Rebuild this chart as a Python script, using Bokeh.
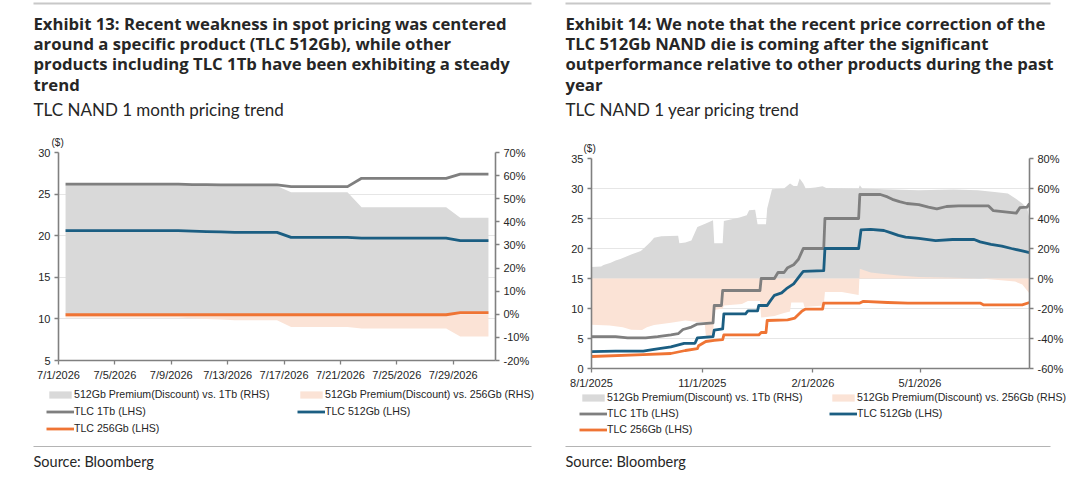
import pandas as pd
from bokeh.plotting import figure
from bokeh.models import (Range1d, LinearAxis, FixedTicker, PrintfTickFormatter,
                          Legend, LegendItem)
from bokeh.layouts import row, column
from bokeh.embed import file_html
from bokeh.resources import INLINE
from bokeh.core.properties import value

# ---- Exhibit 13: one month, daily ----
m_dates = pd.date_range("2026-07-01", "2026-07-31")
m_tb1 = [26.2, 26.2, 26.2, 26.2, 26.2, 26.2, 26.2, 26.2, 26.2, 26.15, 26.15, 26.1, 26.1, 26.1, 26.1, 26.1,
         25.9, 25.9, 25.9, 25.9, 25.9, 26.9, 26.9, 26.9, 26.9, 26.9, 26.9, 26.9, 27.4, 27.4, 27.4]
m_gb512 = [20.6, 20.6, 20.6, 20.6, 20.6, 20.6, 20.6, 20.6, 20.6, 20.55, 20.5, 20.45, 20.4, 20.4, 20.4, 20.4,
           19.8, 19.8, 19.8, 19.8, 19.8, 19.7, 19.7, 19.7, 19.7, 19.7, 19.7, 19.7, 19.4, 19.4, 19.4]
m_gb256 = [10.5, 10.5, 10.5, 10.5, 10.5, 10.5, 10.5, 10.5, 10.5, 10.5, 10.5, 10.5, 10.5, 10.5, 10.5, 10.5,
           10.5, 10.5, 10.5, 10.5, 10.5, 10.5, 10.5, 10.5, 10.5, 10.5, 10.5, 10.5, 10.75, 10.75, 10.75]
m_prem_1tb = [56.0, 56.0, 56.0, 56.0, 56.0, 56.0, 56.0, 56.0, 56.0, 55.9, 55.8, 55.6, 55.5, 55.5, 55.5, 55.5,
              52.8, 52.8, 52.8, 52.8, 52.8, 46.3, 46.3, 46.3, 46.3, 46.3, 46.3, 46.3, 41.8, 41.8, 41.8]
m_prem_256 = [-1.4, -1.4, -1.4, -1.4, -1.4, -1.4, -1.4, -1.4, -1.4, -1.7, -2.0, -2.3, -2.6, -2.6, -2.6, -2.6,
              -5.5, -5.5, -5.5, -5.5, -5.5, -6.1, -6.1, -6.1, -6.1, -6.1, -6.1, -6.1, -9.6, -9.6, -9.6]
m_ticks = ["2026-07-01", "2026-07-05", "2026-07-09", "2026-07-13", "2026-07-17", "2026-07-21", "2026-07-25", "2026-07-29"]
m_tick_labels = ["7/1/2026", "7/5/2026", "7/9/2026", "7/13/2026", "7/17/2026", "7/21/2026", "7/25/2026", "7/29/2026"]

# ---- Exhibit 14: one year, read at the break points ----
y_tb1_d = ["2025-08-01", "2025-08-21", "2025-08-31", "2025-09-15", "2025-09-25", "2025-10-06", "2025-10-12",
           "2025-10-16", "2025-10-23", "2025-10-28", "2025-11-10", "2025-11-11", "2025-11-17", "2025-11-18",
           "2025-12-19", "2025-12-20", "2025-12-31", "2026-01-03", "2026-01-08", "2026-01-11", "2026-01-16",
           "2026-01-20", "2026-01-24", "2026-02-10", "2026-02-11", "2026-03-11", "2026-03-12", "2026-03-29",
           "2026-04-04", "2026-04-08", "2026-04-14", "2026-04-20", "2026-04-30", "2026-05-08", "2026-05-15",
           "2026-05-23", "2026-06-02", "2026-06-27", "2026-07-01", "2026-07-20", "2026-07-23", "2026-07-29",
           "2026-07-31"]
y_tb1 = [5.3, 5.3, 5.1, 5.1, 5.3, 5.6, 5.8, 6.5, 6.9, 7.4, 7.6, 10.5, 10.5, 13.0, 13.0, 15.0, 15.0, 16.0,
         16.0, 16.8, 17.3, 18.2, 20.0, 20.0, 25.0, 25.0, 29.0, 29.0, 28.6, 28.2, 27.8, 27.5, 27.3, 26.9, 26.6,
         27.0, 27.1, 27.1, 26.3, 25.9, 26.8, 26.9, 27.5]

y_gb512_d = ["2025-08-01", "2025-08-21", "2025-09-13", "2025-09-22", "2025-10-06", "2025-10-17", "2025-10-26",
             "2025-10-28", "2025-11-10", "2025-11-11", "2025-11-18", "2025-11-19", "2025-12-07", "2025-12-09",
             "2025-12-17", "2025-12-18", "2025-12-25", "2025-12-27", "2025-12-31", "2026-01-06", "2026-01-10",
             "2026-01-16", "2026-01-22", "2026-01-24", "2026-02-10", "2026-02-11", "2026-03-11", "2026-03-13",
             "2026-03-21", "2026-04-01", "2026-04-07", "2026-04-13", "2026-04-19", "2026-04-30", "2026-05-14",
             "2026-05-28", "2026-06-15", "2026-06-20", "2026-06-29", "2026-07-08", "2026-07-16", "2026-07-25",
             "2026-07-31"]
y_gb512 = [2.8, 2.9, 2.9, 3.2, 3.6, 4.2, 4.2, 5.1, 5.3, 6.4, 6.6, 9.1, 9.1, 9.6, 9.6, 10.5, 10.5, 11.1, 12.2,
           12.6, 13.3, 14.1, 15.7, 16.2, 16.3, 20.0, 20.0, 23.1, 23.2, 23.0, 22.6, 22.2, 21.9, 21.7, 21.3, 21.5,
           21.5, 21.1, 20.7, 20.4, 20.0, 19.6, 19.3]

y_gb256_d = ["2025-08-01", "2025-09-13", "2025-10-06", "2025-10-18", "2025-10-28", "2025-10-29", "2025-11-04",
             "2025-11-11", "2025-11-18", "2025-11-19", "2025-12-18", "2025-12-20", "2025-12-24", "2025-12-25",
             "2026-01-11", "2026-01-17", "2026-01-23", "2026-01-26", "2026-02-09", "2026-02-10", "2026-03-12",
             "2026-03-15", "2026-04-04", "2026-04-21", "2026-06-20", "2026-06-23", "2026-07-25", "2026-07-31"]
y_gb256 = [2.0, 2.3, 2.5, 3.0, 3.3, 3.8, 4.5, 4.7, 4.8, 5.6, 5.6, 6.0, 6.0, 8.0, 8.1, 8.4, 9.6, 9.9, 9.9, 10.9,
           10.9, 11.2, 11.0, 10.9, 10.9, 10.6, 10.6, 11.0]

y_prem_1tb_d = ["2025-08-01", "2025-08-09", "2025-08-11", "2025-08-17", "2025-08-21", "2025-08-25", "2025-09-03",
                "2025-09-11", "2025-09-14", "2025-09-19", "2025-09-22", "2025-09-28", "2025-10-12", "2025-10-13",
                "2025-10-18", "2025-10-23", "2025-10-28", "2025-11-04", "2025-11-10", "2025-11-11", "2025-11-18",
                "2025-11-19", "2025-12-02", "2025-12-08", "2025-12-10", "2025-12-15", "2025-12-17", "2025-12-24",
                "2025-12-25", "2025-12-29", "2026-01-08", "2026-01-13", "2026-01-16", "2026-01-19", "2026-01-21",
                "2026-01-24", "2026-01-26", "2026-02-03", "2026-02-09", "2026-02-12", "2026-03-11", "2026-03-12",
                "2026-03-14", "2026-04-01", "2026-04-30", "2026-05-29", "2026-06-18", "2026-07-02", "2026-07-13",
                "2026-07-20", "2026-07-25", "2026-07-29", "2026-07-31"]
y_prem_1tb = [7.6, 8.0, 9.0, 10.5, 12.0, 13.0, 16.0, 18.3, 20.5, 24.3, 27.2, 28.1, 28.5, 23.5, 24.0, 25.4, 34.3,
              36.6, 38.8, 23.5, 23.5, 38.3, 40.6, 42.1, 45.5, 45.9, 36.1, 36.1, 46.6, 59.5, 60.0, 63.4, 61.6, 61.6,
              66.7, 63.3, 60.0, 60.6, 61.5, 60.4, 60.0, 62.2, 60.0, 59.5, 58.9, 59.3, 58.9, 57.7, 56.6, 53.0, 50.0,
              47.0, 40.0]

y_prem_256_d = ["2025-08-01", "2025-08-16", "2025-08-27", "2025-09-03", "2025-09-12", "2025-09-16", "2025-09-22",
                "2025-10-06", "2025-10-18", "2025-10-28", "2025-11-03", "2025-11-04", "2025-11-10", "2025-11-11",
                "2025-11-18", "2025-11-19", "2025-12-04", "2025-12-09", "2025-12-19", "2025-12-20", "2025-12-31",
                "2026-01-08", "2026-01-13", "2026-01-14", "2026-01-24", "2026-01-25", "2026-02-10", "2026-02-11",
                "2026-02-25", "2026-03-11", "2026-03-12", "2026-03-21", "2026-04-01", "2026-04-13", "2026-04-30",
                "2026-05-29", "2026-06-20", "2026-07-05", "2026-07-19", "2026-07-25", "2026-07-31"]
y_prem_256 = [-30.8, -31.4, -32.5, -34.2, -34.3, -32.5, -31.0, -29.5, -28.0, -29.0, -29.0, -38.0, -40.0, -21.0,
              -20.0, -18.0, -17.0, -15.0, -15.0, -26.0, -25.0, -23.0, -22.0, -16.0, -16.0, -19.0, -18.0, -9.0,
              -9.0, -11.0, 6.5, 4.0, 3.0, 2.0, 1.0, 0.5, 0.0, -1.0, -2.0, -4.0, -10.0]
y_ticks = ["2025-08-01", "2025-11-01", "2026-02-01", "2026-05-01"]
y_tick_labels = ["8/1/2025", "11/1/2025", "2/1/2026", "5/1/2026"]

names = ["512Gb Premium(Discount) vs. 1Tb (RHS)", "512Gb Premium(Discount) vs. 256Gb (RHS)",
         "TLC 1Tb (LHS)", "TLC 512Gb (LHS)", "TLC 256Gb (LHS)"]

title13 = ["Exhibit 13: Recent weakness in spot pricing was centered",
           "around a specific product (TLC 512Gb), while other",
           "products including TLC 1Tb have been exhibiting a steady",
           "trend"]
title14 = ["Exhibit 14: We note that the recent price correction of the",
           "TLC 512Gb NAND die is coming after the significant",
           "outperformance relative to other products during the past",
           "year"]

GRAY_AREA = "#d9d9d9"
PINK_AREA = "#fbe3d6"
GRAY = "#7f7f7f"
BLUE = "#1b5e82"
ORANGE = "#ef7434"
AXIS = "#808080"
TXT = "#262626"
TICK_FONT = "Liberation Sans"
HEAD_FONT = "Lato"
TITLE_FONT = "Open Sans"
TOP_H = 128
LW = 2.8


def ms(d):
    return pd.Timestamp(d).value // 10**6


def blank(x0, y0, w, h):
    # a plain canvas whose data units are page pixels (y pointing down)
    p = figure(width=w, height=h, x_range=Range1d(x0, x0 + w), y_range=Range1d(y0 + h, y0),
               min_border=0, x_axis_location=None, y_axis_location=None,
               output_backend="svg", toolbar_location=None)
    p.grid.visible = False
    p.outline_line_color = None
    p.frame_align = False
    return p


def header(x0, x_text, x_rule, lines, subtitle):
    p = blank(x0, 0, 540, TOP_H)
    p.segment(x0=[x_text], y0=[3], x1=[x_rule], y1=[3], line_color="#c8c8c8", line_width=1.8)
    p.text(x=[x_text] * 4, y=[23, 43, 63, 84], text=lines, text_font=value(TITLE_FONT),
           text_font_size="16.7px", text_font_style="bold", text_baseline="middle", text_color=TXT)
    p.text(x=[x_text], y=[109], text=[subtitle], text_font=value(HEAD_FONT),
           text_font_size="17px", text_baseline="middle", text_color=TXT)
    return p


def footer(x0, y0, x_text, x_rule, leg_x, leg_top, spacing):
    h = 481 - y0
    p = blank(x0, y0, 540, h)
    # legend keys: one-point stand-ins styled like the chart series (nothing visible is drawn)
    k1 = p.varea(x=[x0], y1=[y0], y2=[y0], fill_color=GRAY_AREA)
    k2 = p.varea(x=[x0], y1=[y0], y2=[y0], fill_color=PINK_AREA)
    k3 = p.line(x=[x0], y=[y0], line_color=GRAY, line_width=LW)
    k4 = p.line(x=[x0], y=[y0], line_color=BLUE, line_width=LW)
    k5 = p.line(x=[x0], y=[y0], line_color=ORANGE, line_width=LW)
    leg_h = 3 * 13 + 2 * spacing
    legend = Legend(items=[LegendItem(label=n, renderers=[r]) for n, r in zip(names, [k1, k2, k3, k4, k5])],
                    location=(leg_x - x0, 481 - (leg_top + leg_h)), orientation="horizontal", ncols=2,
                    glyph_width=28, glyph_height=9, label_height=13, label_width=219, label_standoff=0,
                    spacing=spacing, padding=0, margin=0, border_line_color=None,
                    background_fill_alpha=0, label_text_font=TICK_FONT, label_text_font_size="10.6px",
                    label_text_color=TXT)
    p.add_layout(legend)
    p.segment(x0=[x_text], y0=[446], x1=[x_rule], y1=[446], line_color="#b4b4b4", line_width=1.2)
    p.text(x=[x_text], y=[461], text=["Source: Bloomberg"], text_font=value(HEAD_FONT),
           text_font_size="14.5px", text_baseline="middle", text_color=TXT)
    return p


def chart(x_start, x_end, yr, pr, yticks, pticks, borders, height, xs, series, ticks, tick_labels, unit_offset):
    bl, br, bt, bb = borders
    p = figure(width=540, height=height, x_axis_type="datetime",
               x_range=Range1d(start=x_start, end=x_end), y_range=Range1d(*yr),
               min_border_left=bl, min_border_right=br, min_border_top=bt, min_border_bottom=bb,
               output_backend="svg", toolbar_location=None)
    p.frame_align = False
    p.extra_y_ranges = {"pct": Range1d(*pr)}
    p.outline_line_color = None
    p.xgrid.visible = False
    p.ygrid.grid_line_color = "#e6e6e6"
    p.ygrid.grid_line_width = 1

    xa, xb, xc, xd, xe = xs
    p.varea(x=xa, y1=0, y2=series[0], y_range_name="pct", fill_color=GRAY_AREA)
    p.varea(x=xb, y1=0, y2=series[1], y_range_name="pct", fill_color=PINK_AREA)
    p.line(xc, series[2], line_color=GRAY, line_width=LW, line_join="round")
    p.line(xd, series[3], line_color=BLUE, line_width=LW, line_join="round")
    p.line(xe, series[4], line_color=ORANGE, line_width=LW, line_join="round")

    p.add_layout(LinearAxis(y_range_name="pct", ticker=FixedTicker(ticks=pticks),
                            formatter=PrintfTickFormatter(format="%d%%")), "right")
    p.yaxis[0].ticker = FixedTicker(ticks=yticks)
    p.xaxis.ticker = FixedTicker(ticks=[ms(t) for t in ticks])
    p.xaxis.major_label_overrides = {ms(t): lab for t, lab in zip(ticks, tick_labels)}
    for ax in p.axis:
        ax.axis_line_color = AXIS
        ax.axis_line_width = 1.6
        ax.major_tick_line_color = AXIS
        ax.major_tick_line_width = 1.3
        ax.major_tick_in = 0
        ax.major_tick_out = 4
        ax.minor_tick_line_color = None
        ax.major_label_text_font = TICK_FONT
        ax.major_label_text_font_size = "11px"
        ax.major_label_text_color = TXT
        ax.major_label_standoff = 4

    p.title.text = "($)"
    p.title.align = "left"
    p.title.offset = unit_offset
    p.title.standoff = 10
    p.title.text_font = TICK_FONT
    p.title.text_font_size = "10px"
    p.title.text_font_style = "normal"
    p.title.text_color = TXT
    return p


mx = m_dates + pd.Timedelta(hours=12)
c1 = chart(pd.Timestamp("2026-07-01"), pd.Timestamp("2026-08-01"), (5, 30), (-20, 70),
           list(range(5, 31, 5)), list(range(-20, 71, 10)), (58, 45, 24, 25), 385 - TOP_H,
           (mx, mx, mx, mx, mx), (m_prem_1tb, m_prem_256, m_tb1, m_gb512, m_gb256),
           m_ticks, m_tick_labels, -7)
c2 = chart(pd.Timestamp("2025-08-01"), pd.Timestamp("2026-07-31"), (0, 35), (-60, 80),
           list(range(0, 36, 5)), list(range(-60, 81, 20)), (51, 51, 30, 23), 391 - TOP_H,
           tuple(pd.to_datetime(d) for d in [y_prem_1tb_d, y_prem_256_d, y_tb1_d, y_gb512_d, y_gb256_d]),
           (y_prem_1tb, y_prem_256, y_tb1, y_gb512, y_gb256),
           y_ticks, y_tick_labels, -8)

left = column(header(0, 33, 531, title13, "TLC NAND 1 month pricing trend"), c1,
              footer(0, 385, 33, 531, 46, 387.5, 4))
right = column(header(540, 565, 1050, title14, "TLC NAND 1 year pricing trend"), c2,
               footer(540, 391, 565, 1050, 579, 390.5, 3))

page = row(left, right)
open("out.html", "w").write(file_html(page, INLINE))
